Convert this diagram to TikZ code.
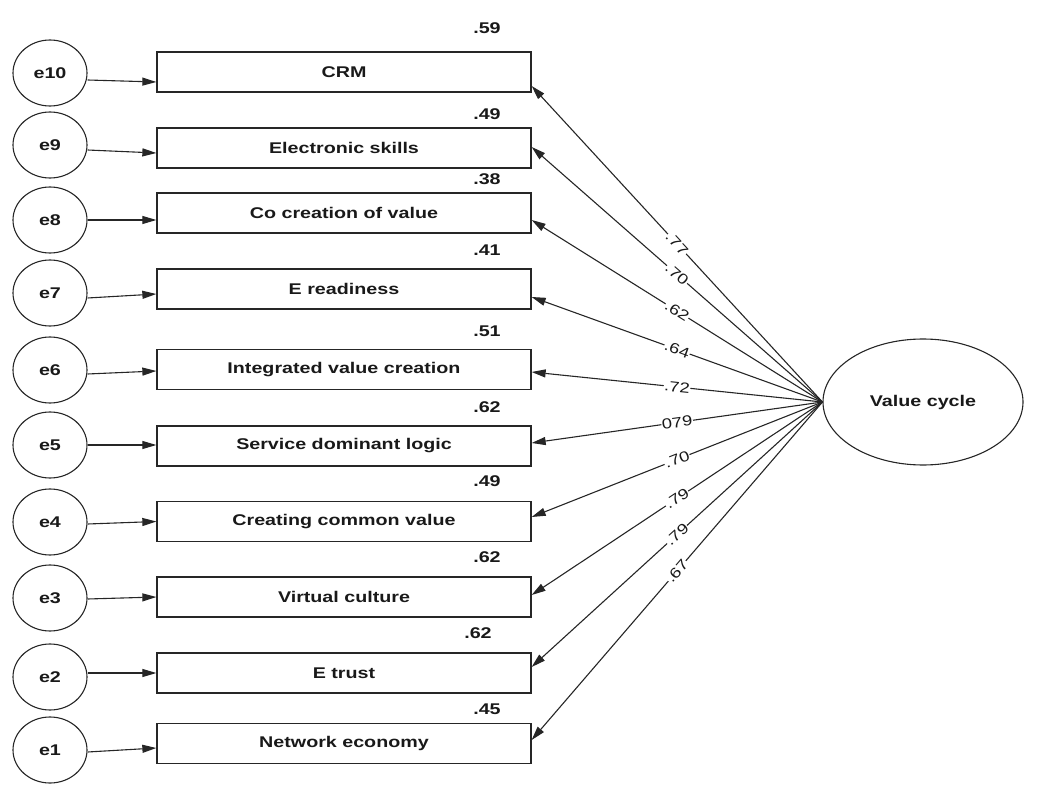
\documentclass[tikz,border=0pt]{standalone}
\usepackage{fontspec}
\setmainfont[FakeStretch=1.27]{Liberation Sans}
\usetikzlibrary{arrows.meta,shapes.geometric}
\begin{document}
\begin{tikzpicture}[x=1pt,y=-1pt,
  every node/.style={font=\fontsize{15.5}{18}\selectfont\bfseries, text=black!90},
  err/.style={ellipse,draw=black!85,line width=1.1pt,minimum width=74pt,minimum height=66pt,inner sep=0pt},
  obs/.style={rectangle,draw=black!85,line width=1.3pt,minimum width=374pt,minimum height=40pt,inner sep=0pt},
  lat/.style={ellipse,draw=black!85,line width=1.1pt,minimum width=200pt,minimum height=126pt,inner sep=0pt},
  arr/.style={draw=black!85,line width=1.1pt,-{Triangle[length=14pt,width=8pt]}},
  load/.style={font=\fontsize{14.5}{16}\selectfont,text=black!90,sloped,fill=white,inner sep=0.5pt,pos=0.5},
  rsq/.style={inner sep=0pt}
]
\useasboundingbox (0,0) rectangle (1044,794);

% error terms
\node[err] (e10) at (50,73) {e10};
\node[err] (e9) at (50,145) {e9};
\node[err] (e8) at (50,220) {e8};
\node[err] (e7) at (50,293) {e7};
\node[err] (e6) at (50,370) {e6};
\node[err] (e5) at (50,445) {e5};
\node[err] (e4) at (50,522) {e4};
\node[err] (e3) at (50,598) {e3};
\node[err] (e2) at (50,677) {e2};
\node[err] (e1) at (50,750) {e1};

% observed variables
\node[obs] (crm) at (344,72) {CRM};
\node[obs] (es) at (344,148) {Electronic skills};
\node[obs] (cc) at (344,213) {Co creation of value};
\node[obs] (er) at (344,289) {E readiness};
\node[obs] (iv) at (344,369.5) {Integrated value creation};
\node[obs] (sd) at (344,446) {Service dominant logic};
\node[obs] (ccv) at (344,521.5) {Creating common value};
\node[obs] (vcu) at (344,597) {Virtual culture};
\node[obs] (et) at (344,673) {E trust};
\node[obs] (ne) at (344,743.5) {Network economy};

% latent
\node[lat] (vc) at (923,402) {Value cycle};

% squared multiple correlations
\node[rsq] (r10) at (487,28) {.59};
\node[rsq] (r9) at (487,114) {.49};
\node[rsq] (r8) at (487,179) {.38};
\node[rsq] (r7) at (487,250) {.41};
\node[rsq] (r6) at (487,331) {.51};
\node[rsq] (r5) at (487,407) {.62};
\node[rsq] (r4) at (487,481) {.49};
\node[rsq] (r3) at (487,557) {.62};
\node[rsq] (r2) at (478,633) {.62};
\node[rsq] (r1) at (487,709) {.45};

% error arrows
\draw[arr] ([yshift=-7pt]e10.east) -- ([yshift=-10pt]crm.west);
\draw[arr] ([yshift=-5pt]e9.east) -- ([yshift=-5pt]es.west);
\draw[arr] (e8.east) -- ([yshift=-7pt]cc.west);
\draw[arr] ([yshift=-5pt]e7.east) -- ([yshift=-5pt]er.west);
\draw[arr] ([yshift=-4pt]e6.east) -- ([yshift=-1.5pt]iv.west);
\draw[arr] (e5.east) -- ([yshift=1pt]sd.west);
\draw[arr] ([yshift=-2pt]e4.east) -- ([yshift=0pt]ccv.west);
\draw[arr] ([yshift=-1pt]e3.east) -- ([yshift=0pt]vcu.west);
\draw[arr] ([yshift=4pt]e2.east) -- ([yshift=0pt]et.west);
\draw[arr] ([yshift=-2pt]e1.east) -- ([yshift=-4.5pt]ne.west);

% loadings
\draw[arr] (vc.west) -- node[load]{.77} ([yshift=-14pt]crm.east);
\draw[arr] (vc.west) -- node[load]{.70} ([yshift=1pt]es.east);
\draw[arr] (vc.west) -- node[load]{.62} ([yshift=-7pt]cc.east);
\draw[arr] (vc.west) -- node[load]{.64} ([yshift=-8pt]er.east);
\draw[arr] (vc.west) -- node[load]{.72} ([yshift=-2.5pt]iv.east);
\draw[arr] (vc.west) -- node[load]{079} ([yshift=3pt]sd.east);
\draw[arr] (vc.west) -- node[load]{.70} ([yshift=4.5pt]ccv.east);
\draw[arr] (vc.west) -- node[load]{.79} ([yshift=2pt]vcu.east);
\draw[arr] (vc.west) -- node[load]{.79} ([yshift=6pt]et.east);
\draw[arr] (vc.west) -- node[load]{.67} ([yshift=3.5pt]ne.east);
\end{tikzpicture}
\end{document}
